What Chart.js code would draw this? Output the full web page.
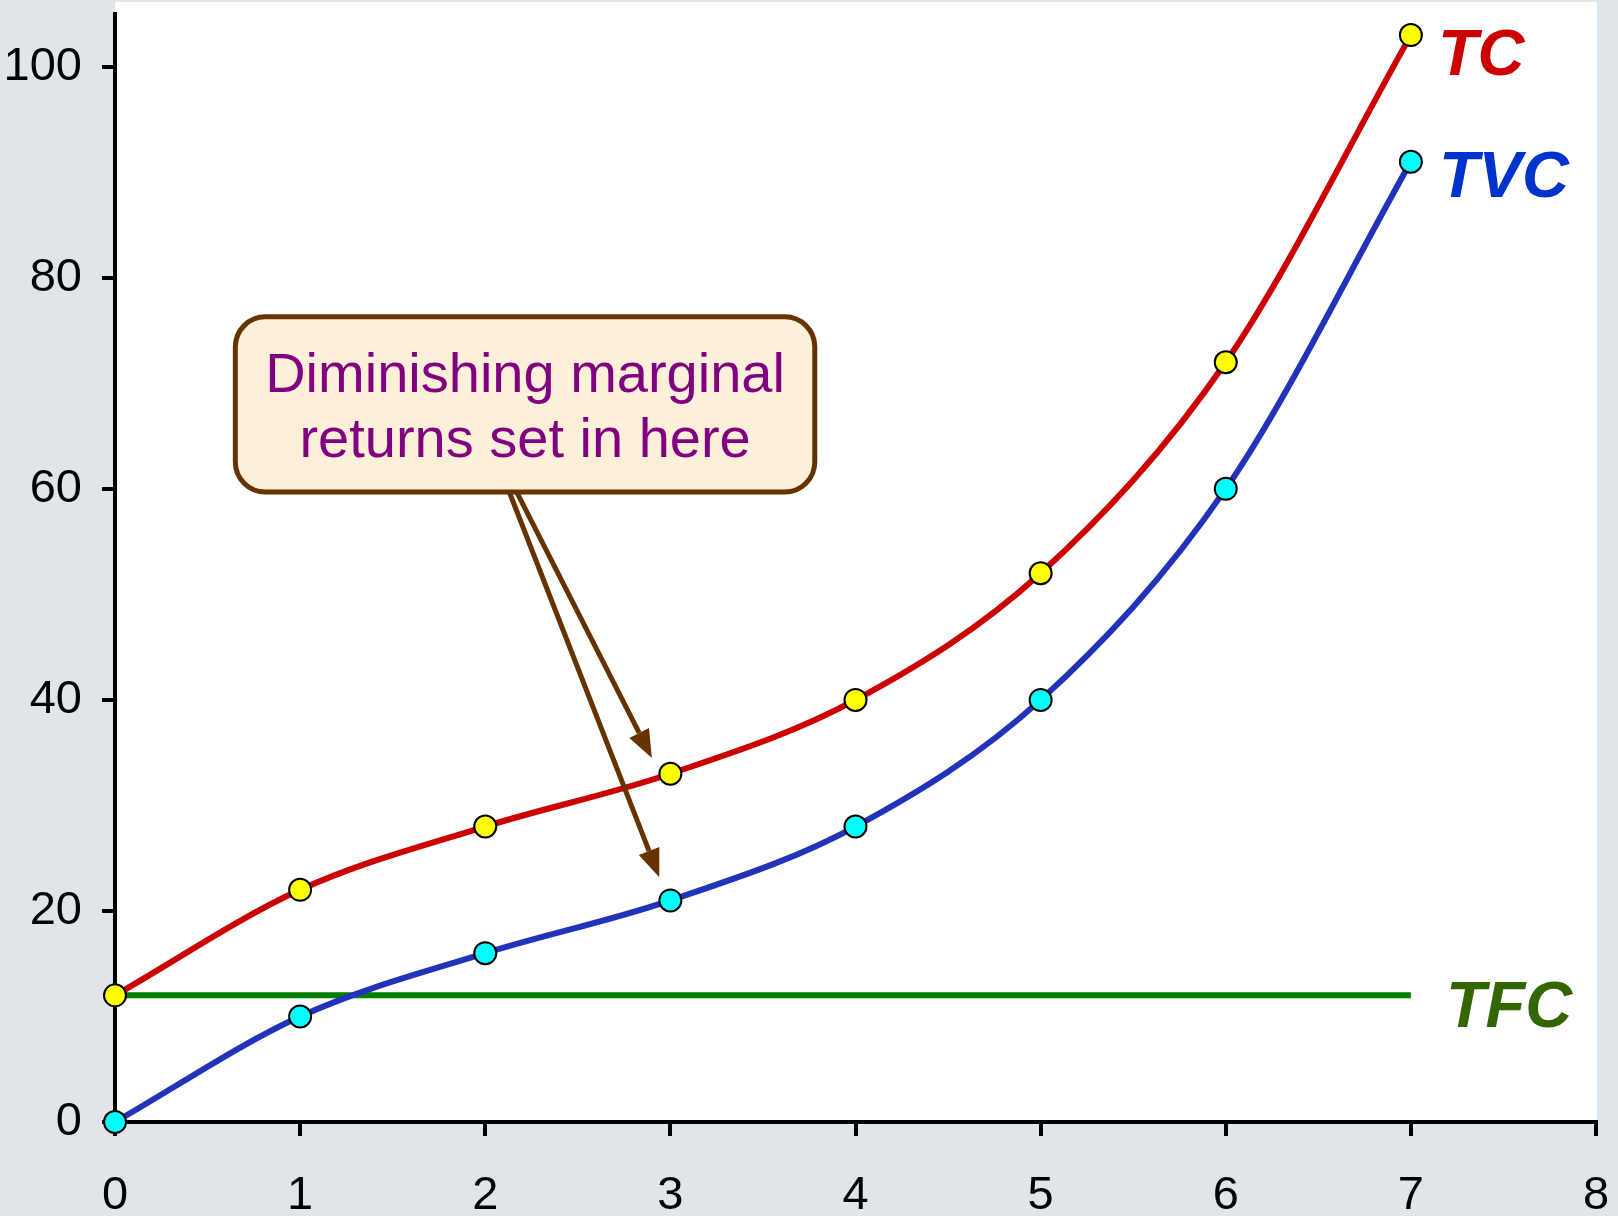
<!DOCTYPE html>
<html>
<head>
<meta charset="utf-8">
<script src="https://cdn.jsdelivr.net/npm/chart.js@4.4.1/dist/chart.umd.min.js"></script>
<style>
  html, body { margin: 0; padding: 0; background: #e0e5ea; }
  canvas { display: block; }
</style>
</head>
<body>
<canvas id="cost-chart" width="1618" height="1216"></canvas>
<script>
// values
const output = [0, 1, 2, 3, 4, 5, 6, 7];
const tc = [12, 22, 28, 33, 40, 52, 72, 103];
const tvc = [0, 10, 16, 21, 28, 40, 60, 91];
const tfc = [12, 12, 12, 12, 12, 12, 12, 12];
const yTicks = [0, 20, 40, 60, 80, 100];
const xTicks = [0, 1, 2, 3, 4, 5, 6, 7, 8];
const calloutText = ["Diminishing marginal", "returns set in here"];

Chart.defaults.font.family = "'Liberation Sans', Arial, sans-serif";

const toPoints = (ys) => output.map((x, i) => ({ x: x, y: ys[i] }));

// white plot area on the grey page
const plotBackground = {
  id: "plotBackground",
  beforeDraw: (chart) => {
    const { ctx, chartArea } = chart;
    ctx.save();
    ctx.fillStyle = "#ffffff";
    ctx.fillRect(chartArea.left, 2, chartArea.right - chartArea.left + 1, chartArea.bottom - 2);
    ctx.restore();
  },
};

// TC / TVC / TFC labels next to the line ends
const seriesLabels = {
  id: "seriesLabels",
  afterDatasetsDraw: (chart) => {
    const { ctx, scales } = chart;
    const x = scales.x, y = scales.y;
    ctx.save();
    ctx.font = "italic bold 65px 'Liberation Sans', Arial, sans-serif";
    ctx.textBaseline = "alphabetic";
    ctx.textAlign = "left";
    chart.data.datasets.forEach((ds) => {
      const last = ds.data[ds.data.length - 1];
      ctx.fillStyle = ds.labelColor;
      ctx.fillText(ds.label, x.getPixelForValue(last.x) + ds.labelDx, y.getPixelForValue(last.y) + ds.labelDy);
    });
    ctx.restore();
  },
};

const drawArrow = (ctx, x0, y0, x1, y1) => {
  const ang = Math.atan2(y1 - y0, x1 - x0);
  const head = 28, half = 11;
  const bx = x1 - head * Math.cos(ang), by = y1 - head * Math.sin(ang);
  ctx.beginPath();
  ctx.moveTo(x0, y0);
  ctx.lineTo(bx, by);
  ctx.stroke();
  ctx.beginPath();
  ctx.moveTo(x1, y1);
  ctx.lineTo(bx + half * Math.sin(ang), by - half * Math.cos(ang));
  ctx.lineTo(bx - half * Math.sin(ang), by + half * Math.cos(ang));
  ctx.closePath();
  ctx.fill();
};

// callout box with two arrows pointing at x = 3
const callout = {
  id: "callout",
  afterDatasetsDraw: (chart) => {
    const { ctx, scales } = chart;
    const x = scales.x, y = scales.y;
    const left = x.getPixelForValue(0.65), right = x.getPixelForValue(3.78);
    const top = y.getPixelForValue(76.3), bottom = y.getPixelForValue(59.7);
    const r = 30;
    ctx.save();
    ctx.fillStyle = "#fcf0d8";
    ctx.strokeStyle = "#663300";
    ctx.lineWidth = 5;
    ctx.beginPath();
    ctx.roundRect(left, top, right - left, bottom - top, r);
    ctx.fill();
    ctx.stroke();

    ctx.fillStyle = "#800080";
    ctx.font = "56px 'Liberation Sans', Arial, sans-serif";
    ctx.textAlign = "center";
    ctx.textBaseline = "alphabetic";
    const cx = (left + right) / 2, cy = (top + bottom) / 2;
    ctx.fillText(calloutText[0], cx, cy - 12);
    ctx.fillText(calloutText[1], cx, cy + 53);

    ctx.strokeStyle = "#663300";
    ctx.fillStyle = "#663300";
    ctx.lineWidth = 5;
    drawArrow(ctx, x.getPixelForValue(2.17), bottom, x.getPixelForValue(2.9), y.getPixelForValue(34.5));
    drawArrow(ctx, x.getPixelForValue(2.13), bottom, x.getPixelForValue(2.94), y.getPixelForValue(23.2));
    ctx.restore();
  },
};

new Chart(document.getElementById("cost-chart"), {
  type: "line",
  data: {
    datasets: [
      {
        label: "TC",
        data: toPoints(tc),
        borderColor: "#cc0000",
        borderWidth: 6,
        pointBackgroundColor: "#ffff00",
        pointBorderColor: "#000000",
        pointBorderWidth: 2,
        pointRadius: 11,
        cubicInterpolationMode: "monotone",
        labelColor: "#cc0000",
        labelDx: 27,
        labelDy: 40,
      },
      {
        label: "TVC",
        data: toPoints(tvc),
        borderColor: "#2233bb",
        borderWidth: 6,
        pointBackgroundColor: "#00ffff",
        pointBorderColor: "#000000",
        pointBorderWidth: 2,
        pointRadius: 11,
        cubicInterpolationMode: "monotone",
        labelColor: "#0033cc",
        labelDx: 28,
        labelDy: 35,
      },
      {
        label: "TFC",
        data: toPoints(tfc),
        borderColor: "#008000",
        borderWidth: 6,
        pointRadius: 0,
        labelColor: "#336600",
        labelDx: 35,
        labelDy: 32,
      },
    ],
  },
  options: {
    responsive: false,
    devicePixelRatio: 1,
    animation: false,
    clip: false,
    layout: { padding: { top: 14, right: 22, left: 0, bottom: 0 } },
    plugins: {
      legend: { display: false },
      tooltip: { enabled: false },
    },
    scales: {
      x: {
        type: "linear",
        min: 0,
        max: 8,
        afterBuildTicks: (scale) => { scale.ticks = xTicks.map((v) => ({ value: v })); },
        afterFit: (scale) => {
          scale.height = 94;
          scale.paddingLeft = 0;
          scale.paddingRight = 0;
        },
        grid: { drawOnChartArea: false, drawTicks: true, tickLength: 14, color: "#000", lineWidth: 4 },
        border: { display: true, color: "#000", width: 4 },
        ticks: { color: "#000", font: { size: 47 }, padding: 32, maxRotation: 0 },
      },
      y: {
        type: "linear",
        min: 0,
        max: 105,
        afterBuildTicks: (scale) => { scale.ticks = yTicks.map((v) => ({ value: v })); },
        afterFit: (scale) => {
          scale.width = 115;
          scale.paddingTop = 0;
          scale.paddingBottom = 0;
        },
        grid: { drawOnChartArea: false, drawTicks: true, tickLength: 13, color: "#000", lineWidth: 4 },
        border: { display: true, color: "#000", width: 4 },
        ticks: { color: "#000", font: { size: 47 }, padding: 20 },
      },
    },
  },
  plugins: [plotBackground, seriesLabels, callout],
});
</script>
</body>
</html>
